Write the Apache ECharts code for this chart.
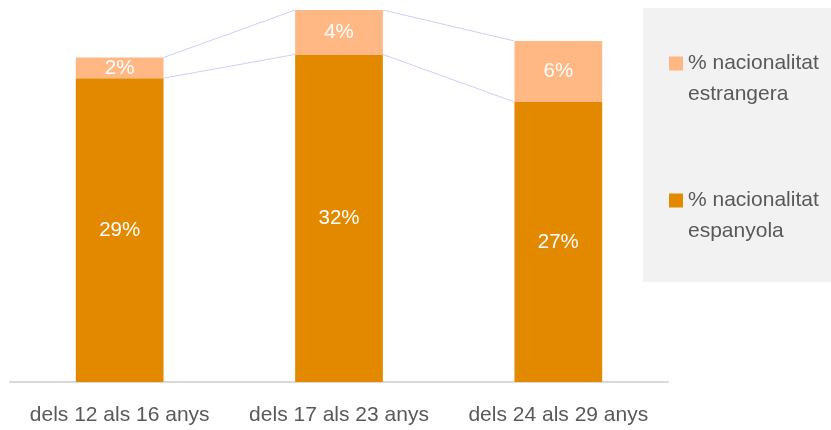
<!DOCTYPE html>
<html><head><meta charset="utf-8">
<script src="https://cdn.jsdelivr.net/npm/echarts@6/dist/echarts.min.js"></script>
<style>html,body{margin:0;padding:0;background:#fff}#c{width:831px;height:430px}</style>
</head><body><div id="c"></div>
<script>
const categories = ['dels 12 als 16 anys', 'dels 17 als 23 anys', 'dels 24 als 29 anys'];
const espanyola = [29.4, 31.7, 27.1];
const estrangera = [2.0, 4.3, 5.9];
const nameEsp = '% nacionalitat espanyola';
const nameEst = '% nacionalitat estrangera';

const FONT = '"Liberation Sans", Arial, sans-serif';
const connData = [];
for (let i = 0; i < categories.length - 1; i++) {
  connData.push([i, espanyola[i], espanyola[i] + estrangera[i], espanyola[i + 1], espanyola[i + 1] + estrangera[i + 1]]);
}
const chart = echarts.init(document.getElementById('c'));
const labelCfg = {
  show: true, position: 'inside', color: '#fff', fontSize: 20.5, fontFamily: FONT,
  formatter: p => Math.round(p.value) + '%'
};
chart.setOption({
  animation: false,
  graphic: [{ type: 'rect', left: 643, top: 8, shape: { width: 188, height: 274 }, style: { fill: '#f2f2f2' }, z: -10 }],
  grid: { left: 10, right: 163, top: 10, bottom: 48 },
  legend: {
    data: [nameEst, nameEsp], orient: 'vertical', left: 669, top: 17, padding: 0,
    itemWidth: 14, itemHeight: 14, itemGap: 44, icon: 'rect',
    formatter: n => '\n' + n.replace('nacionalitat ', 'nacionalitat\n'),
    textStyle: { color: '#595959', fontSize: 21, fontFamily: FONT, lineHeight: 31 }
  },
  xAxis: {
    type: 'category', data: categories,
    axisLine: { lineStyle: { color: '#d9d9d9', width: 2 } },
    axisTick: { show: false },
    axisLabel: { color: '#595959', fontSize: 21, fontFamily: FONT, margin: 23, interval: 0 }
  },
  yAxis: { type: 'value', min: 0, max: 36, show: false, splitLine: { show: false } },
  series: [
    { name: nameEsp, type: 'bar', stack: 's', data: espanyola, barWidth: '40%', itemStyle: { color: '#e38900' }, label: labelCfg },
    { name: nameEst, type: 'bar', stack: 's', data: estrangera, barWidth: '40%', itemStyle: { color: '#ffb784' }, label: labelCfg },
    {
      type: 'custom', data: connData, silent: true, z: 1,
      encode: { x: 0, y: 1 },
      renderItem: (params, api) => {
        const i = api.value(0);
        const hw = api.size([1, 0])[0] * 0.2;
        const a1 = api.coord([i, api.value(1)]), a2 = api.coord([i, api.value(2)]);
        const b1 = api.coord([i + 1, api.value(3)]), b2 = api.coord([i + 1, api.value(4)]);
        const st = { stroke: '#cdcdfa', lineWidth: 1, fill: null };
        return { type: 'group', children: [
          { type: 'line', shape: { x1: a1[0] + hw, y1: a1[1], x2: b1[0] - hw, y2: b1[1] }, style: st },
          { type: 'line', shape: { x1: a2[0] + hw, y1: a2[1], x2: b2[0] - hw, y2: b2[1] }, style: st }
        ] };
      }
    }
  ]
});
</script></body></html>
